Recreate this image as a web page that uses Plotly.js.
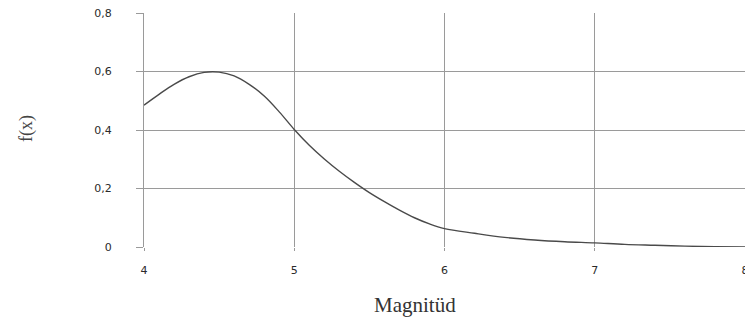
<!DOCTYPE html>
<html>
<head>
<meta charset="utf-8">
<script src="https://cdn.plot.ly/plotly-3.0.1.min.js"></script>
<style>html,body{margin:0;padding:0;background:#fff;}#chart{width:745px;height:334px;}</style>
</head>
<body>
<div id="chart"></div>
<script>
const magnitude = [4.0,4.1,4.2,4.3,4.4,4.5,4.6,4.7,4.8,4.9,5.0,5.1,5.2,5.3,5.4,5.5,5.6,5.7,5.8,5.9,6.0,6.2,6.4,6.6,6.8,7.0,7.2,7.4,7.6,7.8,8.0];
const density = [0.485,0.522,0.556,0.582,0.597,0.598,0.585,0.556,0.516,0.462,0.402,0.348,0.301,0.259,0.221,0.186,0.155,0.126,0.100,0.079,0.063,0.047,0.033,0.024,0.018,0.014,0.009,0.006,0.003,0.001,0.0];
const yTickVals = [0,0.2,0.4,0.6,0.8];
const yTickText = ["0","0,2","0,4","0,6","0,8"];
const xTickVals = [4,5,6,7,8];
const xTickText = ["4","5","6","7","8"];

const grid = '#9a9a9a';
const tickFont = {family: 'DejaVu Sans', size: 11, color: '#2a2a2a'};

Plotly.newPlot('chart', [{
  x: magnitude, y: density, type: 'scatter', mode: 'lines',
  line: {color: '#4a4a4a', width: 1.4, shape: 'spline', smoothing: 1},
  hoverinfo: 'skip'
}], {
  width: 745, height: 334,
  margin: {l: 144, r: 0, t: 13, b: 87},
  paper_bgcolor: '#fff', plot_bgcolor: '#fff',
  showlegend: false,
  xaxis: {
    range: [4, 8], tickvals: xTickVals, ticktext: xTickText,
    showgrid: true, gridcolor: grid, gridwidth: 1,
    zeroline: false, showline: false,
    ticks: 'outside', ticklen: 3, tickcolor: grid,
    ticklabelstandoff: 10, ticklabeloverflow: 'allow', tickfont: tickFont, fixedrange: true
  },
  yaxis: {
    range: [0, 0.8], tickvals: yTickVals, ticktext: yTickText,
    showgrid: true, gridcolor: grid, gridwidth: 1,
    zeroline: false, showline: true, linecolor: grid, linewidth: 1,
    ticks: 'outside', ticklen: 7, tickcolor: grid,
    ticklabelstandoff: 22, tickfont: tickFont, fixedrange: true
  },
  annotations: [
    {text: 'Magnitüd', xref: 'paper', yref: 'paper', x: (415-144)/601, y: -(305-247)/234,
     xanchor: 'center', yanchor: 'middle', showarrow: false,
     font: {family: 'Liberation Serif', size: 21, color: '#333'}},
    {text: 'f(x)', xref: 'paper', yref: 'paper', x: (26-144)/601, y: (247-129)/234,
     xanchor: 'center', yanchor: 'middle', showarrow: false, textangle: -90,
     font: {family: 'Liberation Serif', size: 18, color: '#444'}}
  ]
}, {displayModeBar: false, staticPlot: true});
</script>
</body>
</html>
